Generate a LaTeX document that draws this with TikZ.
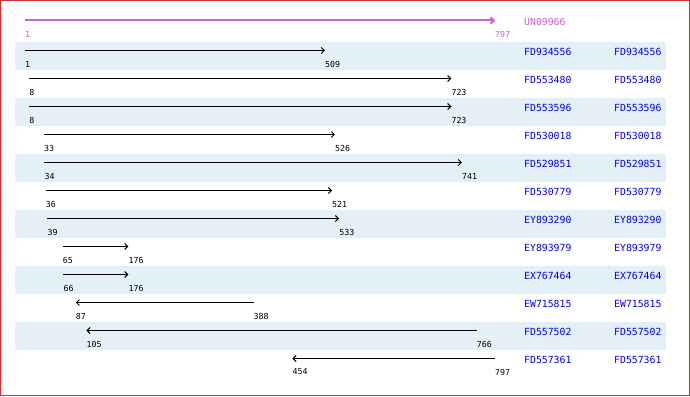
\documentclass[tikz,border=0pt]{standalone}
\usepackage{fontspec}
\setmonofont{DejaVu Sans Mono}
\usetikzlibrary{arrows.meta}
\definecolor{stripe}{HTML}{E3F0F5}
\definecolor{qcol}{HTML}{C864C8}
\definecolor{idcol}{HTML}{0000F0}
\definecolor{framecol}{HTML}{C83232}
\begin{document}
\begin{tikzpicture}[x=1pt,y=-1pt,
  numlbl/.style={anchor=west,inner sep=0pt,font=\ttfamily\fontsize{8.3}{9}\selectfont},
  acclbl/.style={anchor=west,inner sep=0pt,text=idcol,font=\ttfamily\fontsize{9.8}{11}\selectfont},
  hitarrow/.style={line width=1pt,-{Straight Barb[length=3pt,width=6pt]}}]
\pgfmathsetmacro{\sc}{470/796}
\useasboundingbox (0,0) rectangle (690,396);
\foreach \i in {1,3,...,11} \fill[stripe] (15,{42+28*(\i-1)}) rectangle (666,{70+28*(\i-1)});
\draw[framecol,line width=1pt] (0.5,0.5) rectangle (689.5,395.5);
\coordinate (qs) at (25,20.5);
\coordinate (qe) at (495,20.5);
\draw[qcol,line width=2pt,-{Straight Barb[length=3pt,width=6pt]}] (qs) -- (qe);
\node[numlbl,text=qcol] (qsl) at (25,34) {1};
\node[numlbl,text=qcol] (qel) at (495,34) {797};
\node[acclbl,text=qcol] (qid) at (524,21.5) {UN09966};
\foreach \i/\a/\b/\id in {1/1/509/FD934556,2/8/723/FD553480,3/8/723/FD553596,4/33/526/FD530018,
  5/34/741/FD529851,6/36/521/FD530779,7/39/533/EY893290,8/65/176/EY893979,9/66/176/EX767464,
  10/388/87/EW715815,11/766/105/FD557502,12/797/454/FD557361}{
  \pgfmathsetmacro{\y}{42+28*(\i-1)}
  \coordinate (s\i) at ({25+(\a-1)*\sc},{\y+8.5});
  \coordinate (e\i) at ({25+(\b-1)*\sc},{\y+8.5});
  \draw[hitarrow] (s\i) -- (e\i);
  \node[numlbl] (sl\i) at ({25+(\a-1)*\sc},{\y+22}) {\a};
  \node[numlbl] (el\i) at ({25+(\b-1)*\sc},{\y+22}) {\b};
  \node[acclbl] (id\i) at (524,{\y+10}) {\id};
  \node[acclbl] (db\i) at (614,{\y+10}) {\id};
}
\end{tikzpicture}
\end{document}
